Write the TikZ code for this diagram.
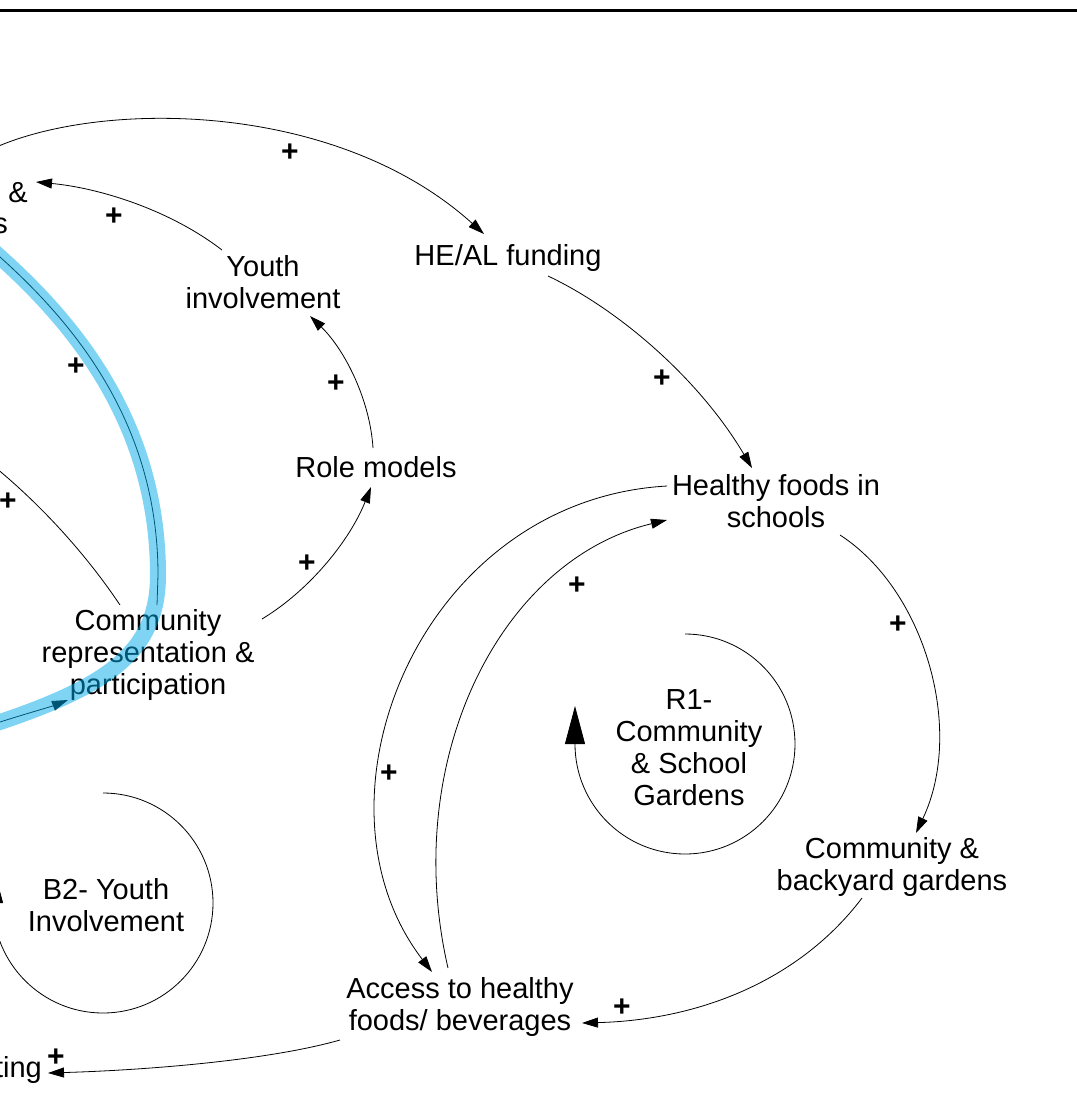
\documentclass[tikz,border=0pt]{standalone}
\usepackage{fontspec}
\setmainfont{Liberation Sans}
\usetikzlibrary{arrows.meta}
\definecolor{bandblue}{RGB}{0,168,232}
\begin{document}
\begin{tikzpicture}[x=1pt,y=1pt,
  lbl/.style={align=center,inner sep=0pt,font=\fontsize{29}{32}\selectfont},
  pl/.style={inner sep=0pt,font=\fontsize{30}{30}\selectfont\bfseries},
  link/.style={line width=0.8pt,-{Triangle[length=16pt,width=10pt]}},
  loopar/.style={line width=0.8pt,-{Triangle[length=38pt,width=20pt]}},
  band/.style={line width=16pt,draw=bandblue,opacity=0.5}]
\useasboundingbox (0,0) rectangle (1077,-1120);
\clip (0,0) rectangle (1077,-1120);
\draw[line width=3pt] (0,-10.5) -- (1077,-10.5);

% nodes
\node[lbl] (he) at (508,-258) {HE/AL funding};
\node[lbl] (yi) at (263,-282) {Youth\\involvement};
\node[lbl] (rm) at (376,-467) {Role models};
\node[lbl] (hf) at (776,-501) {Healthy foods in\\schools};
\node[lbl] (cr) at (148,-655) {Community\\representation \&\\participation};
\node[lbl] (cbg) at (892,-867) {Community \&\\backyard gardens};
\node[lbl] (ah) at (460,-1007) {Access to healthy\\foods/ beverages};
\node[lbl] (r1) at (689,-748) {R1-\\Community\\\& School\\Gardens};
\node[lbl] (b2) at (106,-905) {B2- Youth\\Involvement};
\node[lbl] (tl1) at (18,-193) {\&};
\node[lbl,anchor=east] (tl2) at (8,-226) {s};
\node[lbl,anchor=east] (mk) at (42,-1070) {ting};

% off-canvas ends
\coordinate (offA) at (-20,-155);
\coordinate (offB) at (-40,-440);
\coordinate (offC) at (-30,-230);
\coordinate (offD) at (-20,-729);

% connectors
\draw[link] (offA) .. controls (80,-100) and (330,-95) .. ([shift={(-24,24)}]he.center);
\draw[link] ([shift={(-41,32)}]yi.center) .. controls (170,-210) and (100,-188) .. ([shift={(18,11)}]tl1.center);
\draw[link] ([shift={(40,-18)}]he.center) .. controls (620,-310) and (700,-380) .. ([shift={(-24,33)}]hf.center);
\draw[link] ([shift={(-3,19)}]rm.center) .. controls (370,-400) and (345,-350) .. ([shift={(47,-34)}]yi.center);
\draw[link] ([shift={(114,36)}]cr.center) .. controls (310,-590) and (350,-540) .. ([shift={(-5,-20)}]rm.center);
\draw[link] ([shift={(-28,50)}]cr.center) .. controls (90,-560) and (40,-500) .. (offB);
\draw[link] ([shift={(9,50)}]cr.center) -- (158,-575) .. controls (158,-420) and (70,-320) .. (0,-257) -- (offC);
\draw[link] (offD) -- (0,-722) .. controls (25,-714) and (50,-707) .. ([shift={(-80,-45)}]cr.center);
\draw[link] ([shift={(-109,15)}]hf.center) .. controls (420,-500) and (300,-800) .. ([shift={(-28,35)}]ah.center);
\draw[link] ([shift={(-12,39)}]ah.center) .. controls (400,-760) and (500,-560) .. ([shift={(-109,-19)}]hf.center);
\draw[link] ([shift={(64,-34)}]hf.center) .. controls (925,-590) and (965,-730) .. ([shift={(24,34)}]cbg.center);
\draw[link] ([shift={(-30,-31)}]cbg.center) .. controls (800,-980) and (700,-1020) .. ([shift={(122,-16)}]ah.center);
\draw[link] ([shift={(-120,-33)}]ah.center) .. controls (270,-1060) and (150,-1070) .. ([shift={(6,-3)}]mk.east);

% loop markers
\draw[loopar] ([shift={(-4,114)}]r1.center) arc[start angle=90,end angle=-180,radius=110] -- ++(0,38);
\draw[loopar] ([shift={(-3,112)}]b2.center) arc[start angle=90,end angle=-180,radius=110] -- ++(0,38);

% polarity signs
\node[pl] (p1) at (290,-153) {+};
\node[pl] (p2) at (114,-217) {+};
\node[pl] (p3) at (662,-379) {+};
\node[pl] (p4) at (336,-384) {+};
\node[pl] (p5) at (307,-564) {+};
\node[pl] (p6) at (8,-502) {+};
\node[pl] (p7) at (76,-367) {+};
\node[pl] (p8) at (389,-774) {+};
\node[pl] (p9) at (577,-586) {+};
\node[pl] (p10) at (898,-625) {+};
\node[pl] (p11) at (622,-1008) {+};
\node[pl] (p12) at (56,-1058) {+};

% highlighted loop
\draw[band] (-20,-239) -- (0,-257) .. controls (70,-320) and (158,-420) .. (158,-575) .. controls (158,-650) and (110,-685) .. (0,-722) -- (-20,-729);
\end{tikzpicture}
\end{document}
